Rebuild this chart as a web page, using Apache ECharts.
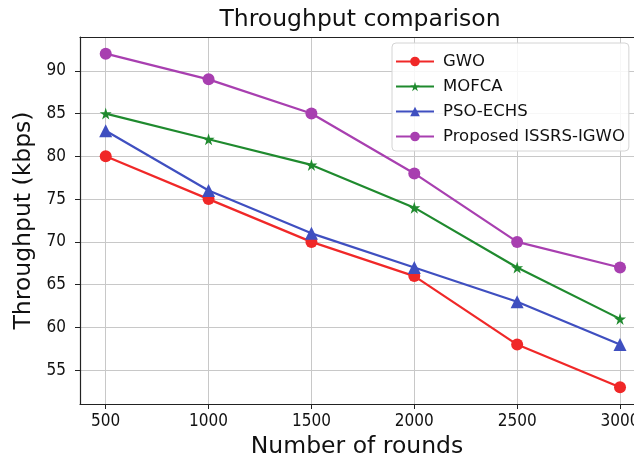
<!DOCTYPE html>
<html><head><meta charset="utf-8">
<script src="https://cdn.jsdelivr.net/npm/echarts@6/dist/echarts.min.js"></script>
<style>html,body{margin:0;padding:0;background:#fff}#c{width:634px;height:463px}</style>
</head><body><div id="c"></div>
<script>
const rounds = [500, 1000, 1500, 2000, 2500, 3000];
const xTicks = [500, 1000, 1500, 2000, 2500, 3000];
const yTicks = [55, 60, 65, 70, 75, 80, 85, 90];
const gwo = [80, 75, 70, 66, 58, 53];
const mofca = [85, 82, 79, 74, 67, 61];
const psoEchs = [83, 76, 71, 67, 63, 58];
const proposed = [92, 89, 85, 78, 70, 67];
const seriesNames = ['GWO', 'MOFCA', 'PSO-ECHS', 'Proposed ISSRS-IGWO'];

const star = 'path://M50,0 L61,35 L98,35 L68,57 L79,91 L50,70 L21,91 L32,57 L2,35 L39,35 Z';
const font = 'DejaVu Sans';
const tickFont = 'DejaVu Sans Condensed';
function mk(name, data, color, symbol, size) {
  return {
    name, type: 'line', data: rounds.map((r, i) => [r, data[i]]),
    symbol, symbolSize: size, showSymbol: true,
    lineStyle: {color, width: 2.2}, itemStyle: {color},
    emphasis: {disabled: true}
  };
}
const chart = echarts.init(document.getElementById('c'), null, {renderer: 'canvas'});
chart.setOption({
  animation: false,
  backgroundColor: '#fff',
  title: {
    text: 'Throughput comparison', left: 355, top: 3, textAlign: 'center',
    textStyle: {fontFamily: font, fontSize: 23.5, fontWeight: 'normal', color: '#111'}
  },
  grid: {left: 80, top: 37, right: 0, height: 367, show: false, containLabel: false, outerBoundsMode: 'none'},
  legend: {
    orient: 'vertical', left: 392, top: 43, data: seriesNames,
    itemWidth: 38, itemHeight: 12, itemGap: 8,
    padding: [10, 4, 6, 3],
    borderColor: '#d4d4d4', borderWidth: 1, borderRadius: 4, backgroundColor: 'rgba(255,255,255,0.85)',
    textStyle: {fontFamily: font, fontSize: 16.5, lineHeight: 17, color: '#111', padding: [0, 0, 0, 4]}
  },
  xAxis: [{
    type: 'value', min: 375, max: 3068,
    name: 'Number of rounds', nameLocation: 'middle', nameGap: 29,
    nameTextStyle: {fontFamily: font, fontSize: 23.5, color: '#111'},
    axisLine: {show: true, lineStyle: {color: '#222', width: 1.2}},
    axisTick: {show: true, length: 5, lineStyle: {color: '#222'}, customValues: xTicks},
    axisLabel: {fontFamily: tickFont, fontSize: 17, color: '#111', margin: 9, customValues: xTicks,
      formatter: v => String(v)},
    splitLine: {show: true, lineStyle: {color: '#c8c8c8', width: 1}}
  }, {
    type: 'value', position: 'top', min: 375, max: 3068,
    axisLine: {show: true, onZero: false, lineStyle: {color: '#222', width: 1.2}},
    axisTick: {show: false}, axisLabel: {show: false}, splitLine: {show: false}
  }],
  yAxis: {
    type: 'value', min: 51.05, max: 93.95,
    name: 'Throughput (kbps)', nameLocation: 'middle', nameGap: 41,
    nameTextStyle: {fontFamily: font, fontSize: 23.5, color: '#111'},
    axisLine: {show: true, lineStyle: {color: '#222', width: 1.2}},
    axisTick: {show: true, length: 5, lineStyle: {color: '#222'}, customValues: yTicks},
    axisLabel: {fontFamily: tickFont, fontSize: 17, color: '#111', margin: 14, customValues: yTicks},
    splitLine: {show: true, lineStyle: {color: '#c8c8c8', width: 1}}
  },
  series: [
    mk('GWO', gwo, '#f02828', 'circle', 12),
    mk('MOFCA', mofca, '#1f8a2e', star, 12),
    mk('PSO-ECHS', psoEchs, '#3f4fc0', 'triangle', 13),
    mk('Proposed ISSRS-IGWO', proposed, '#a83fb0', 'circle', 12)
  ]
});
</script></body></html>
